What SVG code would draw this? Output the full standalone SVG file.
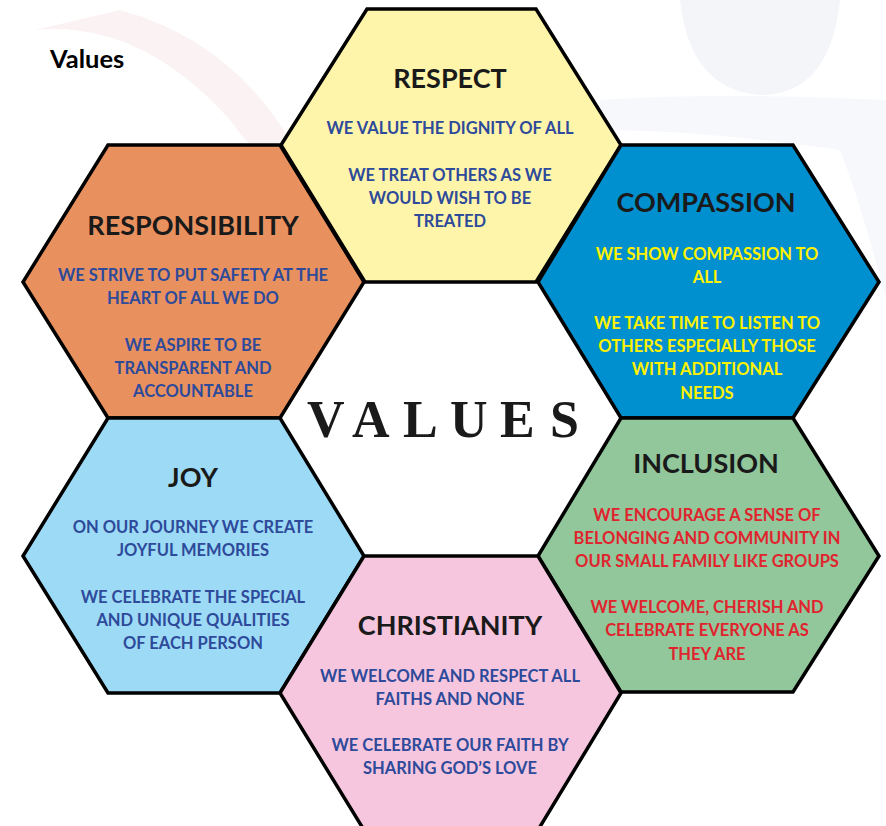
<svg xmlns="http://www.w3.org/2000/svg" width="886" height="826" viewBox="0 0 886 826">
<style>
.hex{stroke:#000;stroke-width:3.5;stroke-linejoin:miter}
.ttl{font-family:Lato,"Liberation Sans",sans-serif;font-weight:bold;font-size:27px;fill:#1a1a1a;text-anchor:middle}
.bd{font-family:Lato,"Liberation Sans",sans-serif;font-weight:bold;font-size:16.5px;text-anchor:middle}
.blue{fill:#2e4a9a}
.yel{fill:#fff200}
.red{fill:#e0242e}
</style>
<rect width="886" height="826" fill="#ffffff"/>
<g id="watermark">
<path d="M680 0 Q690 90 760 95 Q830 95 840 0 Z" fill="#f3f5f9"/>
<path d="M600 100 Q720 92 886 100 L886 300 Q860 200 840 150 Q700 130 600 130 Z" fill="#f7f8fb"/>
<path d="M35 30 Q140 20 230 120 Q280 190 290 140 Q230 40 120 10 Z" fill="#fbf3f3"/>
</g>
<text x="50" y="68" font-family="Lato,'Liberation Sans',sans-serif" font-weight="bold" font-size="25.5" fill="#000">Values</text>
<g id="respect">
<polygon class="hex" points="367,9 536,9 621,145 536,282 365,282 281,145" fill="#fff5aa"/>
<text class="ttl" x="450" y="88">RESPECT</text>
<text class="bd blue" x="450" y="134">WE VALUE THE DIGNITY OF ALL</text>
<text class="bd blue" x="450" y="181">WE TREAT OTHERS AS WE</text>
<text class="bd blue" x="450" y="204">WOULD WISH TO BE</text>
<text class="bd blue" x="450" y="227">TREATED</text>
</g>
<g id="responsibility">
<polygon class="hex" points="108,145 280,145 364,282 280,418 108,418 23,282" fill="#e8915f"/>
<text class="ttl" x="193" y="235">RESPONSIBILITY</text>
<text class="bd blue" x="193" y="281">WE STRIVE TO PUT SAFETY AT THE</text>
<text class="bd blue" x="193" y="304">HEART OF ALL WE DO</text>
<text class="bd blue" x="193" y="351">WE ASPIRE TO BE</text>
<text class="bd blue" x="193" y="374">TRANSPARENT AND</text>
<text class="bd blue" x="193" y="397">ACCOUNTABLE</text>
</g>
<g id="compassion">
<polygon class="hex" points="621,145 793,145 879,282 793,418 621,418 538,282" fill="#008fcf"/>
<text class="ttl" x="706" y="212">COMPASSION</text>
<text class="bd yel" x="707" y="260">WE SHOW COMPASSION TO</text>
<text class="bd yel" x="707" y="283">ALL</text>
<text class="bd yel" x="707" y="329">WE TAKE TIME TO LISTEN TO</text>
<text class="bd yel" x="707" y="352">OTHERS ESPECIALLY THOSE</text>
<text class="bd yel" x="707" y="375">WITH ADDITIONAL</text>
<text class="bd yel" x="707" y="399">NEEDS</text>
</g>
<g id="joy">
<polygon class="hex" points="108,418 280,418 364,556 280,693 108,693 23,556" fill="#9cdaf6"/>
<text class="ttl" x="193" y="487">JOY</text>
<text class="bd blue" x="193" y="533">ON OUR JOURNEY WE CREATE</text>
<text class="bd blue" x="193" y="556">JOYFUL MEMORIES</text>
<text class="bd blue" x="193" y="603">WE CELEBRATE THE SPECIAL</text>
<text class="bd blue" x="193" y="626">AND UNIQUE QUALITIES</text>
<text class="bd blue" x="193" y="649">OF EACH PERSON</text>
</g>
<g id="inclusion">
<polygon class="hex" points="621,418 793,418 879,556 793,692 621,692 538,556" fill="#92c69b"/>
<text class="ttl" x="706" y="473">INCLUSION</text>
<text class="bd red" x="707" y="521">WE ENCOURAGE A SENSE OF</text>
<text class="bd red" x="707" y="544">BELONGING AND COMMUNITY IN</text>
<text class="bd red" x="707" y="567">OUR SMALL FAMILY LIKE GROUPS</text>
<text class="bd red" x="707" y="613">WE WELCOME, CHERISH AND</text>
<text class="bd red" x="707" y="636">CELEBRATE EVERYONE AS</text>
<text class="bd red" x="707" y="660">THEY ARE</text>
</g>
<g id="christianity">
<polygon class="hex" points="364,556 538,556 621,693 538,830 364,830 280,693" fill="#f6c6de"/>
<text class="ttl" x="450" y="635">CHRISTIANITY</text>
<text class="bd blue" x="450" y="682">WE WELCOME AND RESPECT ALL</text>
<text class="bd blue" x="450" y="705">FAITHS AND NONE</text>
<text class="bd blue" x="450" y="751">WE CELEBRATE OUR FAITH BY</text>
<text class="bd blue" x="450" y="774">SHARING GOD’S LOVE</text>
</g>
<g id="center">
<text x="307 352 403 450 500 550" y="437" font-family="'Liberation Serif',serif" font-weight="bold" font-size="52" fill="#1a1a1a">VALUES</text>
</g>
<g id="connectors"/>
</svg>
